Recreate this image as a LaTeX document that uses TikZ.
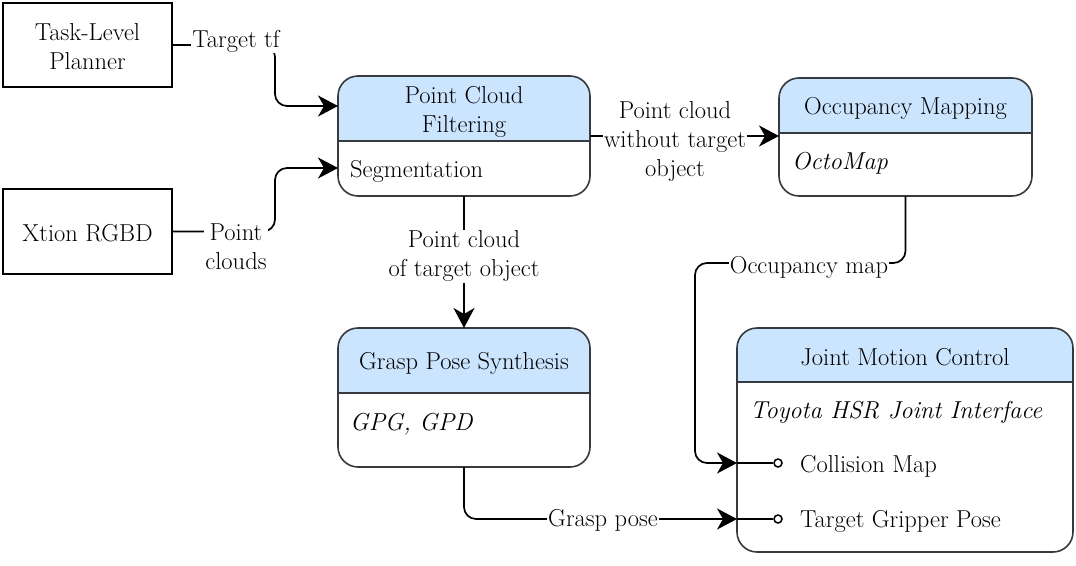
\documentclass[tikz,border=0pt]{standalone}
\usetikzlibrary{arrows.meta}
\definecolor{hdr}{HTML}{CCE5FF}
\definecolor{bd}{HTML}{36393D}
\begin{document}
\begin{tikzpicture}[x=1pt,y=-1pt,
  every node/.style={font=\fontsize{24.5}{29}\selectfont},
  plainbox/.style={draw=black, line width=1.6pt, outer sep=0pt, anchor=north west, align=center},
  lane/.style={draw=bd, line width=1.6pt, rounded corners=20pt, fill=white, outer sep=0pt, anchor=north west},
  hdrfill/.style={path picture={\fill[hdr, sharp corners] (path picture bounding box.north west) rectangle ([yshift=-#1]path picture bounding box.north east);}},
  conn/.style={draw=black, line width=1.7pt, rounded corners=12pt, -{Stealth[length=20pt,width=21pt,inset=6pt]}},
  line/.style={draw=black, line width=1.7pt, rounded corners=12pt},
  lbl/.style={fill=white, inner sep=1pt, align=center},
  txt/.style={inner sep=0pt, align=center},
  ltxt/.style={inner sep=0pt, anchor=west},
  port/.style={circle, draw=black, fill=white, line width=1.5pt, inner sep=0pt, minimum size=8pt}
]
\useasboundingbox (0,0) rectangle (1076,565);

% plain boxes
\node[plainbox, minimum width=169pt, minimum height=84pt] (planner) at (3,3) {};
\node[txt] (plannert) at (87.5,47) {Task-Level\\Planner};
\node[plainbox, minimum width=169pt, minimum height=85pt] (xtion) at (3,189) {};
\node[txt] (xtiont) at (87.5,233) {Xtion RGBD};

% lanes
\node[lane, hdrfill=65pt, minimum width=252pt, minimum height=120pt] (pcf) at (338,76) {};
\draw[draw=bd, line width=1.6pt] ([yshift=-65pt]pcf.north west) -- ([yshift=-65pt]pcf.north east);
\node[txt] (pcft) at (464,112) {Point Cloud\\Filtering};
\node[ltxt] (pcfs) at (350,171) {Segmentation};

\node[lane, hdrfill=55pt, minimum width=253pt, minimum height=118pt] (occ) at (779,78) {};
\draw[draw=bd, line width=1.6pt] ([yshift=-55pt]occ.north west) -- ([yshift=-55pt]occ.north east);
\node[txt] (occt) at (905.5,108) {Occupancy Mapping};
\node[ltxt] (occs) at (792,163) {\itshape OctoMap};

\node[lane, hdrfill=65pt, minimum width=252pt, minimum height=139pt] (gps) at (338,328) {};
\draw[draw=bd, line width=1.6pt] ([yshift=-65pt]gps.north west) -- ([yshift=-65pt]gps.north east);
\node[txt] (gpst) at (464,363) {Grasp Pose Synthesis};
\node[ltxt] (gpss) at (350,424) {\itshape GPG, GPD};

\node[lane, hdrfill=54pt, minimum width=336pt, minimum height=224pt] (jmc) at (737,328) {};
\draw[draw=bd, line width=1.6pt] ([yshift=-54pt]jmc.north west) -- ([yshift=-54pt]jmc.north east);
\node[txt] (jmct) at (905,357) {Joint Motion Control};
\node[ltxt] (jmcs) at (750,412) {\itshape Toyota HSR Joint Interface};

% ports
\coordinate (pcfin1) at (338,106);
\coordinate (pcfin2) at (338,168);
\coordinate (jmcin1) at (737,463);
\coordinate (jmcin2) at (737,519);
\node[port] (p1) at (778,463) {};
\node[port] (p2) at (778,519) {};
\draw[line] (jmcin1) -- (p1.west);
\draw[line] (jmcin2) -- (p2.west);
\node[ltxt] (p1t) at (800,466) {Collision Map};
\node[ltxt] (p2t) at (800,521) {Target Gripper Pose};

% connectors
\draw[conn] (planner.east) -| ([xshift=-63pt]pcfin1) -- (pcfin1);
\node[lbl] (l1) at (236,41) {Target tf};

\draw[conn] (xtion.east) -| ([xshift=-63pt]pcfin2) -- (pcfin2);
\node[lbl] (l2) at (236,247) {Point\\clouds};

\draw[conn] (pcf.east) -- (occ.west |- pcf.east);
\node[lbl] (l3) at (675,141) {Point cloud\\without target\\object};

\draw[conn] (pcf.south) -- (gps.north);
\node[lbl] (l4) at (464,256) {Point cloud\\of target object};

\draw[conn] (occ.south) |- ([xshift=-42pt,yshift=200pt]jmcin1) |- (jmcin1);
\node[lbl] (l5) at (809,267) {Occupancy map};

\draw[conn] (gps.south) |- (jmcin2);
\node[lbl] (l6) at (603,520) {Grasp pose};
\end{tikzpicture}
\end{document}
